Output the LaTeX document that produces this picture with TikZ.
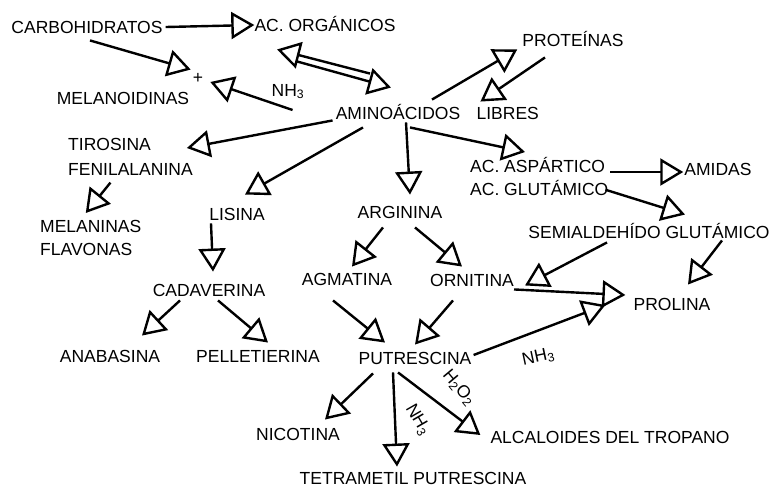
\documentclass[tikz,border=0pt]{standalone}
\usepackage{fontspec}
\setmainfont{Liberation Sans}
\usetikzlibrary{arrows.meta, positioning}

\begin{document}
\begin{tikzpicture}[
x=1pt, y=-1pt,
font=\fontsize{17.5}{23}\selectfont,
etq/.style={inner sep=0pt,
text height=12.5pt,
text depth=0pt},
etqdos/.style={inner sep=0pt,
align=left,
anchor=north west},
flecha/.style={-{Triangle[open, length=23pt, width=27pt]}, line width=2.4pt, line join=round}
]

\useasboundingbox (0,0) rectangle (770,491);

\node[etq] (carb) at (87,27) {CARBOHIDRATOS};
\node[etq] (acorg) at (325,25) {AC. ORGÁNICOS};
\node[etq] (plus) at (198,77) {+};
\node[etq] (melan) at (123,98) {MELANOIDINAS};
\node[etq] (nhA) at (288,90) {NH\textsubscript{3}};
\node[etq] (amino) at (398,113) {AMINOÁCIDOS};
\node[etq, right=16pt of amino] (libres) {LIBRES};
\node[etq] (prot) at (573,40) {PROTEÍNAS};
\node[etqdos] (tiros) at (68,138) {TIROSINA\\[2pt]FENILALANINA};
\node[etqdos] (melanin) at (40,220) {MELANINAS\\FLAVONAS};
\node[etq] (lisina) at (237,214) {LISINA};
\node[etq] (cadav) at (209,290) {CADAVERINA};
\node[etq] (anab) at (110,356) {ANABASINA};
\node[etq] (pellet) at (258,356) {PELLETIERINA};
\node[etq] (argin) at (400,212) {ARGININA};
\node[etq] (agmat) at (347,279) {AGMATINA};
\node[etq] (ornit) at (472,280) {ORNITINA};
\node[etq] (putres) at (415,358) {PUTRESCINA};
\node[etq] (nicot) at (298,434) {NICOTINA};
\node[etq] (tetra) at (413,478) {TETRAMETIL PUTRESCINA};
\node[etq] (alcal) at (610,437) {ALCALOIDES DEL TROPANO};
\node[etqdos] (acasp) at (470,157) {AC. ASPÁRTICO\\AC. GLUTÁMICO};
\node[etq] (amidas) at (718,169) {AMIDAS};
\node[etq] (semi) at (649,232) {SEMIALDEHÍDO GLUTÁMICO};
\node[etq] (prolina) at (672,304) {PROLINA};
\node[etq, rotate=-60] (nhB) at (419,419) {NH\textsubscript{3}};
\node[etq, rotate=-50] (hdos) at (460,387) {H\textsubscript{2}O\textsubscript{2}};
\node[etq, rotate=12] (nhC) at (538,356) {NH\textsubscript{3}};

% arriba
\draw[flecha] ([xshift=3pt]carb.east) -- (acorg.west);
\draw[flecha] ([shift={(3,7)}]carb.south) -- ([shift={(-2,-1)}]plus.north west);
\draw[flecha] ([shift={(-43,-3)}]amino.west) -- ([shift={(7,5)}]plus.east);
\draw[flecha] ([shift={(-28,-33)}]amino.north) -- ([shift={(-48,18)}]acorg.south);
\draw[flecha] ([shift={(-28,30)}]acorg.south) -- ([shift={(-7,-19)}]amino.north);
\draw[flecha] ([shift={(34,-7)}]amino.north) -- ([shift={(-5,3)}]prot.south west);
\draw[flecha] ([shift={(-28,11)}]prot.south) -- ([shift={(4,-5)}]libres.north west);

% izquierda
\draw[flecha] ([shift={(-3,1)}]amino.south west) -- ([shift={(-6,10)}]tiros.north east);
\draw[flecha] ([shift={(-20,7)}]tiros.south) -- ([shift={(-5,-7)}]melanin.north);
\draw[flecha] ([shift={(-35,8)}]amino.south) -- ([shift={(8,-13)}]lisina.north);
\draw[flecha] ([shift={(-26,3)}]lisina.south) -- ([shift={(4,-12)}]cadav.north);
\draw[flecha] ([shift={(-29,4)}]cadav.south) -- ([shift={(32,-14)}]anab.north);
\draw[flecha] ([shift={(9,4)}]cadav.south) -- ([shift={(10,-7)}]pellet.north);

% centro
\draw[flecha] ([shift={(8,3)}]amino.south) -- ([shift={(10,-11)}]argin.north);
\draw[flecha] ([shift={(-17,9)}]argin.south) -- ([shift={(5,-6)}]agmat.north);
\draw[flecha] ([shift={(15,9)}]argin.south) -- ([shift={(-10,-7)}]ornit.north);
\draw[flecha] ([shift={(-14,15)}]agmat.south) -- ([shift={(-30,-9)}]putres.north);
\draw[flecha] ([shift={(-19,14)}]ornit.south) -- ([shift={(0,-7)}]putres.north);
\draw[flecha] ([shift={(-42,9)}]putres.south) -- ([shift={(27,-8)}]nicot.north);
\draw[flecha] ([shift={(-22,8)}]putres.south) -- ([shift={(-16,-5)}]tetra.north);
\draw[flecha] ([shift={(-17,8)}]putres.south) -- ([shift={(-10,-2)}]alcal.west);
\draw[flecha] ([shift={(2,-3)}]putres.east) -- ([shift={(-28,1)}]prolina.west);

% derecha
\draw[flecha] ([shift={(12,8)}]amino.south) -- ([shift={(55,-5)}]acasp.north west);
\draw[flecha] ([shift={(2,15)}]acasp.north east) -- ([shift={(-1,3)}]amidas.west);
\draw[flecha] ([shift={(-3,-6)}]acasp.south east) -- ([shift={(36,-11)}]semi.north);
\draw[flecha] ([shift={(-42,4)}]semi.south) -- ([shift={(11,-1)}]ornit.south east);
\draw[flecha] ([shift={(73,2)}]semi.south) -- ([shift={(16,-13)}]prolina.north);
\draw[flecha] ([shift={(0,3)}]ornit.south east) -- ([shift={(-8,-9)}]prolina.west);

\end{tikzpicture}
\end{document}
